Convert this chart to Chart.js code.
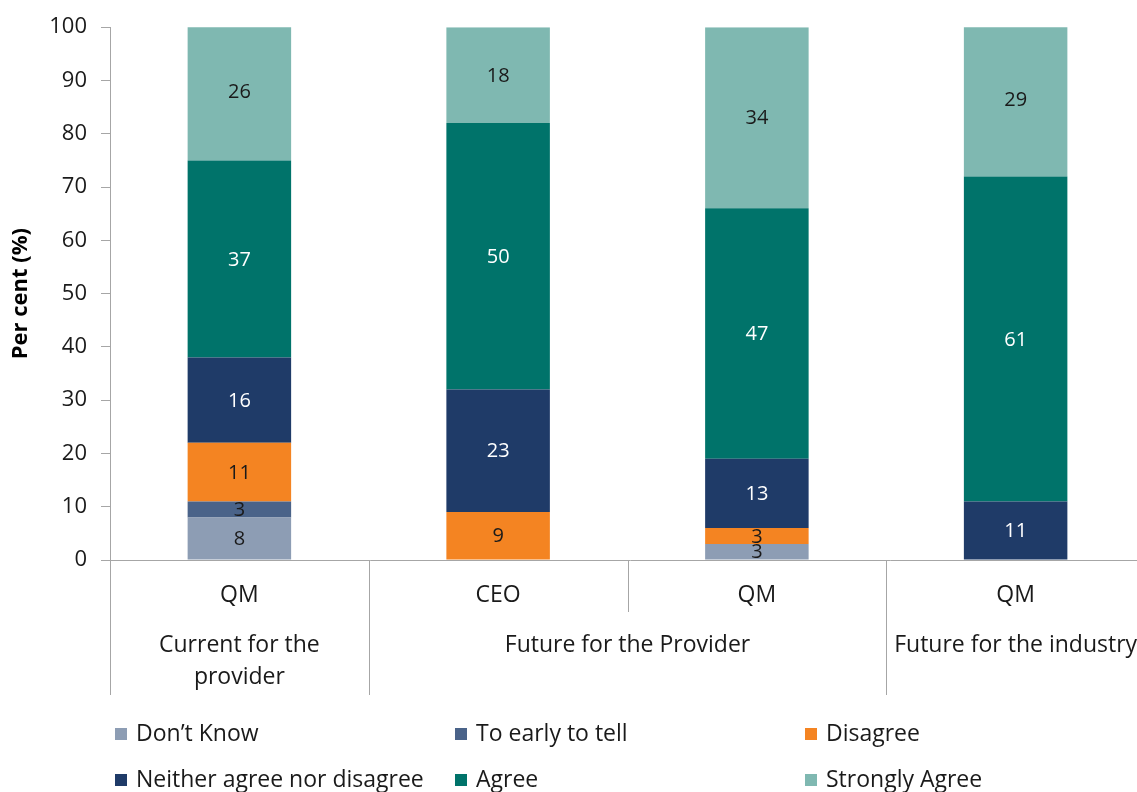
<!DOCTYPE html>
<html>
<head>
<meta charset="utf-8">
<script src="https://cdn.jsdelivr.net/npm/chart.js@4"></script>
<style>
  html, body { margin: 0; padding: 0; background: #fff; overflow: hidden; }
  #wrap { width: 1137px; height: 792px; overflow: hidden; }
</style>
</head>
<body>
<div id="wrap"><canvas id="c" width="1150" height="792"></canvas></div>
<script>
'use strict';

// categories (bottom level) and grouping (second level)
const categories = ['QM', 'CEO', 'QM', 'QM'];
const groups = [
    { label: ['Current for the', 'provider'], span: 1 },
    { label: ['Future for the Provider'], span: 2 },
    { label: ['Future for the industry'], span: 1 },
];

// series values (per cent)
const dontKnow     = [8, null, 3, null];
const tooEarly     = [3, null, null, null];
const disagree     = [11, 9, 3, null];
const neither      = [16, 23, 13, 11];
const agree        = [37, 50, 47, 61];
const stronglyAgree = [26, 18, 34, 29];

const yTicks = [0, 10, 20, 30, 40, 50, 60, 70, 80, 90, 100];

const FONT = '"Open Sans", "Liberation Sans", sans-serif';
const AXIS = '#a6a6a6';

const SERIES = [
    { label: 'Don\u2019t Know', data: dontKnow, color: '#8d9db4', text: '#1a1a1a' },
    { label: 'To early to tell', data: tooEarly, color: '#4a6389', text: '#1a1a1a' },
    { label: 'Disagree', data: disagree, color: '#f48422', text: '#1a1a1a' },
    { label: 'Neither agree nor disagree', data: neither, color: '#1f3b68', text: '#ffffff' },
    { label: 'Agree', data: agree, color: '#00736a', text: '#ffffff' },
    { label: 'Strongly Agree', data: stronglyAgree, color: '#7fb8b1', text: '#1a1a1a' },
];

// value labels centred in each segment
const segmentLabels = {
    id: 'segmentLabels',
    afterDatasetsDraw(chart) {
        const { ctx } = chart;
        ctx.save();
        ctx.font = '20px ' + FONT;
        ctx.textAlign = 'center';
        ctx.textBaseline = 'middle';
        chart.data.datasets.forEach((ds, i) => {
            const meta = chart.getDatasetMeta(i);
            meta.data.forEach((bar, j) => {
                const v = ds.data[j];
                if (!v) return;
                ctx.fillStyle = SERIES[i].text;
                ctx.fillText(String(v), bar.x, (bar.y + bar.base) / 2 + 1);
            });
        });
        ctx.restore();
    }
};

// two-level category axis with separators
const groupAxis = {
    id: 'groupAxis',
    afterDraw(chart) {
        const { ctx, chartArea } = chart;
        const x = chart.scales.x;
        const y0 = chartArea.bottom;
        const step = x.getPixelForValue(1) - x.getPixelForValue(0);
        const edge = i => Math.round(x.getPixelForValue(i) - step / 2) + 0.5;

        ctx.save();
        ctx.strokeStyle = AXIS;
        ctx.lineWidth = 1;
        ctx.beginPath();
        ctx.moveTo(chartArea.left, y0 + 0.5);
        ctx.lineTo(chartArea.right + 10, y0 + 0.5);
        ctx.stroke();

        ctx.fillStyle = '#1a1a1a';
        ctx.textAlign = 'center';
        ctx.textBaseline = 'middle';
        ctx.font = '23px ' + FONT;
        categories.forEach((c, i) => {
            ctx.fillText(c, x.getPixelForValue(i), y0 + 35);
        });

        let idx = 0;
        ctx.beginPath();
        ctx.moveTo(edge(0), y0);
        ctx.lineTo(edge(0), y0 + 135);
        groups.forEach(g => {
            for (let k = 1; k < g.span; k++) {
                ctx.moveTo(edge(idx + k), y0);
                ctx.lineTo(edge(idx + k), y0 + 52);
            }
            const cx = (x.getPixelForValue(idx) + x.getPixelForValue(idx + g.span - 1)) / 2;
            g.label.forEach((line, li) => {
                ctx.fillText(line, cx, y0 + 85 + li * 32);
            });
            idx += g.span;
            ctx.moveTo(edge(idx), y0);
            ctx.lineTo(edge(idx), y0 + 135);
        });
        ctx.stroke();
        ctx.restore();
    }
};

// legend in three columns, two rows
const gridLegend = {
    id: 'gridLegend',
    afterDraw(chart) {
        const { ctx } = chart;
        const cols = [115, 455, 805];
        const rows = [734, 780];
        ctx.save();
        ctx.font = '23px ' + FONT;
        ctx.textBaseline = 'middle';
        ctx.textAlign = 'left';
        chart.data.datasets.forEach((ds, i) => {
            const cx = cols[i % 3];
            const cy = rows[Math.floor(i / 3)];
            ctx.fillStyle = ds.backgroundColor;
            ctx.fillRect(cx, cy - 6, 12, 12);
            ctx.fillStyle = '#1a1a1a';
            ctx.fillText(ds.label, cx + 21, cy);
        });
        ctx.restore();
    }
};

new Chart(document.getElementById('c'), {
    type: 'bar',
    data: {
        labels: categories,
        datasets: SERIES.map(s => ({
            label: s.label,
            data: s.data,
            backgroundColor: s.color,
            borderWidth: 0,
            categoryPercentage: 1,
            barPercentage: 0.4,
        })),
    },
    options: {
        responsive: false,
        animation: false,
        layout: { padding: { left: 0, top: 19, right: 5, bottom: 232 } },
        plugins: {
            legend: { display: false },
            tooltip: { enabled: false },
        },
        scales: {
            x: {
                stacked: true,
                grid: { display: false },
                border: { display: false },
                ticks: { display: false },
                afterFit: s => { s.height = 0; },
            },
            y: {
                stacked: true,
                min: 0,
                max: 100,
                afterFit: s => { s.width = 110; },
                afterBuildTicks: s => { s.ticks = yTicks.map(v => ({ value: v })); },
                ticks: {
                    color: '#1a1a1a',
                    font: { family: FONT, size: 22 },
                    padding: 14,
                },
                grid: {
                    drawOnChartArea: false,
                    drawTicks: true,
                    tickLength: 9,
                    color: AXIS,
                },
                border: { display: true, color: AXIS },
                title: {
                    display: true,
                    text: 'Per cent (%)',
                    color: '#000',
                    font: { family: FONT, size: 22, weight: 'bold' },
                    padding: { top: 8, bottom: 0 },
                },
            },
        },
    },
    plugins: [segmentLabels, groupAxis, gridLegend],
});
</script>
</body>
</html>
